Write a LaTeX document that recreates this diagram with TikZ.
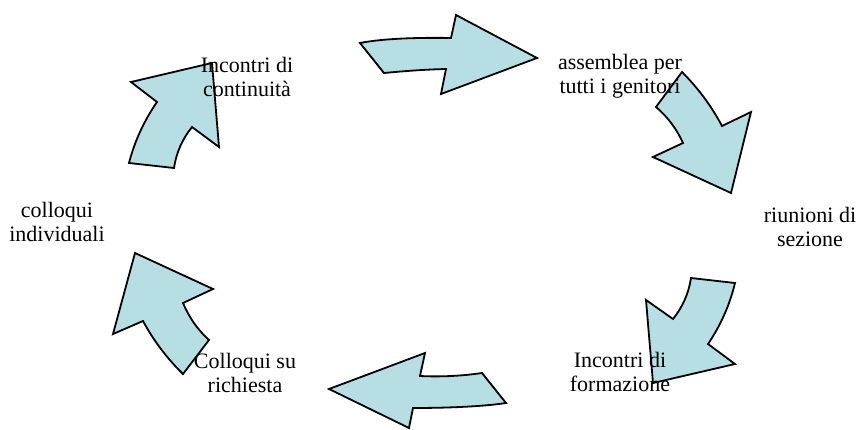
\documentclass[tikz,border=0pt]{standalone}
\usepackage{fontspec}
\setmainfont{Liberation Serif}
\definecolor{arrowfill}{RGB}{183,222,226}
\tikzset{
  cyclearrow/.style={draw=black, fill=arrowfill, line width=1.8pt, line join=miter},
  label/.style={align=center, font=\fontsize{22}{24.5}\selectfont, inner sep=0pt}
}
\begin{document}
\begin{tikzpicture}[x=1pt,y=-1pt]
\useasboundingbox (0,0) rectangle (862,429);
% arrow 1: up-left
\draw[cyclearrow] (129,163) -- (174,168) .. controls (176.3,152.7) and (182.3,139.1) .. (192,127) -- (219,147) -- (212,63) -- (131,82) -- (157,102) .. controls (144.1,120.6) and (134.7,141) .. cycle;
% arrow 2: top
\draw[cyclearrow] (360,43) -- (384,73) .. controls (405,71) and (425,69.5) .. (446,69) -- (441,94) -- (537,58) -- (456,15) -- (451,38) .. controls (425,37.5) and (385,38) .. cycle;
% arrow 3: right top
\draw[cyclearrow] (682,72) -- (656,107) .. controls (667.7,117) and (676.7,129) .. (683,143) -- (653,157) -- (731,193) -- (751,112) -- (722,126) .. controls (711.4,106) and (698,88) .. cycle;
% arrow 4: right bottom
\draw[cyclearrow] (691,278) -- (735,283) .. controls (729.7,304.9) and (720.7,325.3) .. (708,344) -- (735,364) -- (653,383) -- (646,300) -- (673,319) .. controls (682.7,306.9) and (688.7,293.3) .. cycle;
% arrow 5: bottom
\draw[cyclearrow] (482,373) -- (506,403) .. controls (480,407) and (440,408) .. (413,408) -- (409,428) -- (329,389) -- (425,353) -- (420,376) .. controls (440,377) and (462,376) .. cycle;
% arrow 6: left bottom
\draw[cyclearrow] (183,374) -- (209,340) .. controls (197.6,329.7) and (189,317.3) .. (183,303) -- (213,289) -- (135,253) -- (113,334) -- (143,321) .. controls (153.6,340.7) and (167,358.3) .. cycle;
% labels
\node[label] (n1) at (247,77) {Incontri di\\continuità};
\node[label] (n2) at (620,76) {assemblea per\\tutti i genitori};
\node[label] (n3) at (810,227) {riunioni di\\sezione};
\node[label] (n4) at (620,372) {Incontri di\\formazione};
\node[label] (n5) at (245,373) {Colloqui su\\richiesta};
\node[label] (n6) at (57,222) {colloqui\\individuali};
\end{tikzpicture}
\end{document}
